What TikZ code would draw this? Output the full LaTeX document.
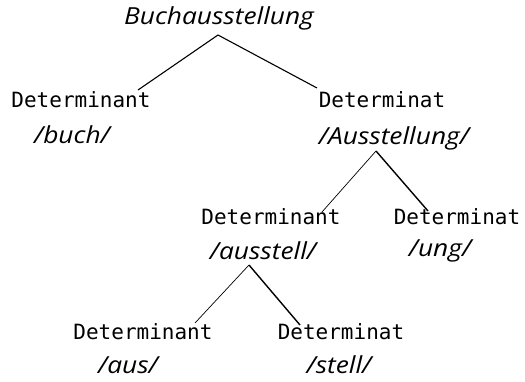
\documentclass[tikz,border=0pt]{standalone}
\usepackage{fontspec}
\newfontfamily\labelfont{DejaVu Sans Mono}
\newfontfamily\handfont[FakeStretch=1.12]{Open Sans}
\begin{document}
\begin{tikzpicture}[x=1pt,y=-1pt,
  cat/.style={inner sep=0pt,font=\labelfont\fontsize{21}{21}\selectfont},
  word/.style={inner sep=0pt,font=\handfont\itshape\fontsize{23.5}{23.5}\selectfont},
  branch/.style={line width=1.1pt},
  thinbranch/.style={line width=0.7pt},
  thickbranch/.style={line width=1.4pt}]
\useasboundingbox (0,0) rectangle (525,382);

% level 0
\node[word] (root) at (219,18) {Buchausstellung};

% level 1
\node[cat]  (detL)  at (81,100)  {Determinant};
\node[word] (buch)  at (72,135)  {/buch/};
\node[cat]  (detR)  at (382,100) {Determinat};
\node[word] (ausst) at (394,138) {/Ausstellung/};

% level 2
\node[cat]  (detM)   at (271,217) {Determinant};
\node[cat]  (detMR)  at (457,217) {Determinat};
\node[word] (aussl)  at (263,251) {/ausstell/};
\node[word] (ung)    at (440,251) {/ung/};

% level 3
\node[cat]  (detB)   at (143,332) {Determinant};
\node[cat]  (detBR)  at (341,332) {Determinat};
\node[word] (aus)    at (128,365) {/aus/};
\node[word] (stell)  at (339,365) {/stell/};

% branching points and branch ends
\coordinate (top1) at (218,35);
\coordinate (endL1) at (138,90);
\coordinate (endR1) at (317,88);
\coordinate (top2) at (376,151);
\coordinate (endL2) at (322,212);
\coordinate (endR2) at (428,211);
\coordinate (top3) at (249,265);
\coordinate (endL3) at (195,323);
\coordinate (endR3) at (300,325);

\draw[branch] (endL1) -- (top1) -- (endR1);
\draw[thinbranch] (top2) -- (endL2);
\draw[thickbranch] (top2) -- (endR2);
\draw[thinbranch] (top3) -- (endL3);
\draw[thickbranch] (top3) -- (endR3);
\end{tikzpicture}
\end{document}
